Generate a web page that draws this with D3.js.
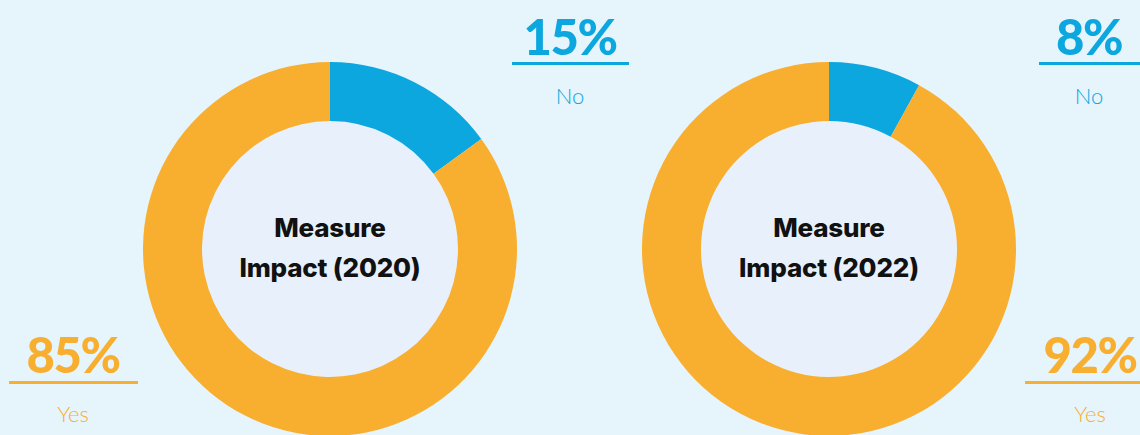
<!DOCTYPE html>
<html><head><meta charset="utf-8">
<script src="https://cdn.jsdelivr.net/npm/d3@7"></script>
<style>
html,body{margin:0;padding:0;background:#e6f4fb;}
svg{display:block;}
</style></head>
<body>
<svg id="chart" width="1140" height="435"></svg>
<script>
const categories = ["No", "Yes"];
const titles = ["Measure Impact (2020)", "Measure Impact (2022)"];
const values2020 = [15, 85];
const values2022 = [8, 92];
const valueLabels2020 = ["15%", "85%"];
const valueLabels2022 = ["8%", "92%"];
const colors = ["#0ca7df", "#f8ae2f"];

const svg = d3.select("#chart");
const W = 1140, H = 435;
svg.append("rect").attr("width", W).attr("height", H).attr("fill", "#e6f4fb");

const color = d3.scaleOrdinal().domain(categories).range(colors);
const pie = d3.pie().sort(null).value(d => d.v);
const outerR = 187, innerR = 128;
const arc = d3.arc().innerRadius(innerR).outerRadius(outerR);

const charts = [
  {cx: 330, cy: 249, values: values2020, labels: valueLabels2020, title: ["Measure", "Impact (2020)"],
   no: {x: 570, lx1: 512, lx2: 629}, yes: {x: 73, lx1: 9, lx2: 138}},
  {cx: 829, cy: 249, values: values2022, labels: valueLabels2022, title: ["Measure", "Impact (2022)"],
   no: {x: 1089, lx1: 1039, lx2: 1140}, yes: {x: 1090, lx1: 1025, lx2: 1140}}
];

charts.forEach(c => {
  const g = svg.append("g").attr("transform", `translate(${c.cx},${c.cy})`);
  g.append("circle").attr("r", innerR).attr("fill", "#e8f1fb");
  const data = categories.map((k, i) => ({k, v: c.values[i]}));
  g.selectAll("path").data(pie(data)).join("path")
    .attr("d", arc).attr("fill", d => color(d.data.k));
  g.selectAll("text.t").data(c.title).join("text")
    .attr("class", "t")
    .attr("x", 0).attr("y", (d, i) => i === 0 ? -12 : 28)
    .attr("text-anchor", "middle")
    .style("font-family", "Inter, sans-serif").style("font-weight", 800)
    .style("font-size", "26px").style("letter-spacing", "-0.2px").attr("fill", "#111")
    .text(d => d);

  const noG = svg.append("g");
  noG.append("text").attr("x", c.no.x).attr("y", 55).attr("text-anchor", "middle")
    .style("font-family", "Lato, sans-serif").style("font-weight", 900).style("font-size", "49px")
    .style("letter-spacing", "-1.5px")
    .attr("fill", colors[0]).text(c.labels[0]);
  noG.append("line").attr("x1", c.no.lx1).attr("x2", c.no.lx2).attr("y1", 63.5).attr("y2", 63.5)
    .attr("stroke", colors[0]).attr("stroke-width", 3);
  noG.append("text").attr("x", c.no.x).attr("y", 104).attr("text-anchor", "middle")
    .style("font-family", "Lato, sans-serif").style("font-weight", 300).style("font-size", "22px")
    .attr("fill", colors[0]).text(categories[0]);

  const yesG = svg.append("g");
  yesG.append("text").attr("x", c.yes.x).attr("y", 373).attr("text-anchor", "middle")
    .style("font-family", "Lato, sans-serif").style("font-weight", 900).style("font-size", "49px")
    .style("letter-spacing", "-1.5px")
    .attr("fill", colors[1]).text(c.labels[1]);
  yesG.append("line").attr("x1", c.yes.lx1).attr("x2", c.yes.lx2).attr("y1", 382.5).attr("y2", 382.5)
    .attr("stroke", colors[1]).attr("stroke-width", 3);
  yesG.append("text").attr("x", c.yes.x).attr("y", 422).attr("text-anchor", "middle")
    .style("font-family", "Lato, sans-serif").style("font-weight", 300).style("font-size", "22px")
    .attr("fill", colors[1]).text(categories[1]);
});
</script>
</body></html>
